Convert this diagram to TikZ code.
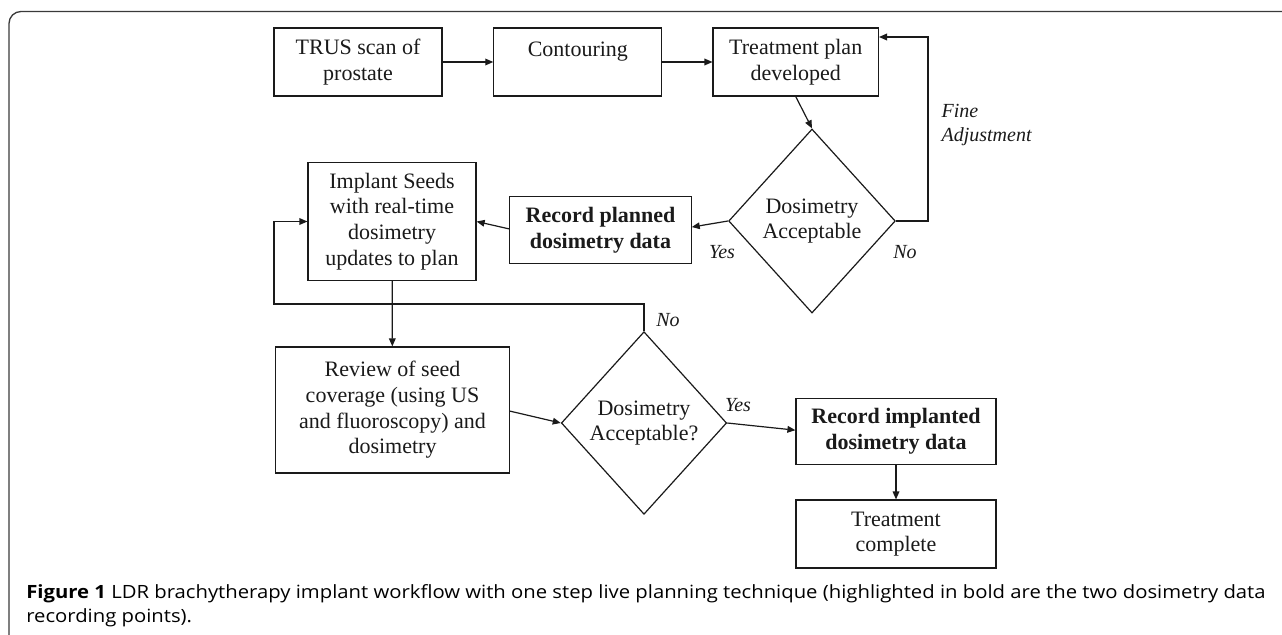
\documentclass[tikz,border=0pt]{standalone}
\usepackage{fontspec}
\setmainfont{Liberation Serif}
\newfontfamily\capfont[FakeStretch=1.11]{Open Sans}
\usepackage{tikz}
\usetikzlibrary{positioning,arrows.meta,shapes.geometric}
\definecolor{cInk}{HTML}{1A1A1A}
\definecolor{cFrame}{HTML}{3A3A3A}

\begin{document}
\begin{tikzpicture}[
  x=0.75pt, y=-0.75pt,
  font=\fontsize{16.5}{19.3}\selectfont,
  >={Triangle[length=6pt,width=5pt]},
  proc/.style={rectangle, draw=cInk, line width=0.9pt, fill=white, text=cInk,
               align=center, inner sep=2pt, minimum width=#1, minimum height=51pt},
  proc/.default=126pt,
  rec/.style={proc=#1, font=\fontsize{16.5}{19.3}\selectfont\bfseries, minimum height=50pt},
  decide/.style={diamond, draw=cInk, line width=0.9pt, fill=white, text=cInk,
                 align=center, inner sep=0pt, minimum width=125pt, minimum height=138pt},
  flow/.style={->, line width=0.9pt, draw=cInk},
  elabel/.style={font=\fontsize{15}{17.5}\selectfont\itshape, text=cInk, inner sep=1pt},
]
\useasboundingbox (0,0) rectangle (1282,635);

% ---------- frame ----------
\draw[cFrame, line width=1pt, rounded corners=9pt] (9,650) -- (9,11.5) -- (1290,11.5);

% ---------- top row ----------
\node[proc] (trus) at (358,62) {TRUS scan of\\prostate};
\node[proc, right=38pt of trus] (contour) {Contouring\\~};
\node[proc=124pt, right=37.5pt of contour] (plan) {Treatment plan\\developed};

\node[decide] (dose1) at (812,221) {Dosimetry\\Acceptable};

% ---------- middle row ----------
\node[rec=136pt] (recplan) at (600.5,230) {Record planned\\dosimetry data};
\node[proc, minimum height=88pt] (implant) at (392,221.5)
  {Implant Seeds\\with real-time\\dosimetry\\updates to plan};

% ---------- lower row ----------
\node[proc=175pt, minimum height=94.5pt] (review) at (392.5,410)
  {Review of seed\\coverage (using US\\and fluoroscopy) and\\dosimetry};
\node[decide, minimum width=124pt, minimum height=137pt] (dose2) at (644,423)
  {Dosimetry\\Acceptable?};
\node[rec=150pt] (recimp) at (896,431.5) {Record implanted\\dosimetry data};
\node[proc=150pt, below=25.5pt of recimp] (done) {Treatment\\complete};

% ---------- labels ----------
\node[elabel, align=left, anchor=west] (fine) at (940,125) {Fine\\Adjustment};
\node[elabel] (no1) at (905,252) {No};
\node[elabel] (yes1) at (722,252) {Yes};
\node[elabel] (no2) at (668,320) {No};
\node[elabel] (yes2) at (738,405) {Yes};

% ---------- arrows ----------
\draw[flow] (trus) -- (contour);
\draw[flow] (contour) -- (plan);
\draw[flow] (plan.south) -- (dose1.north);
\coordinate (fa) at (928,37);
\draw[flow] (dose1.east) -| (fa) -- (plan.east |- fa);
\draw[flow] (dose1.west) -- ([yshift=2.2pt]recplan.east);
\draw[flow] ([yshift=0.8pt]recplan.west) -- (implant.east);
\draw[flow] (implant) -- (review);
\draw[flow] ([yshift=-0.8pt]review.east) -- (dose2.west);
\coordinate (lp) at (274,304);
\draw[flow] (dose2.north) |- (lp) |- (implant.west);
\draw[flow] (dose2.east) -- ([yshift=1pt]recimp.west);
\draw[flow] (recimp) -- (done);

% ---------- caption ----------
\node[anchor=north west, align=left, inner sep=0pt, text=black,
      font=\capfont\fontsize{13.7}{18}\selectfont] (caption) at (26,584)
  {\textbf{Figure 1} LDR brachytherapy implant workflow with one step live planning technique (highlighted in bold are the two dosimetry data\\
   recording points).};

\end{tikzpicture}
\end{document}
